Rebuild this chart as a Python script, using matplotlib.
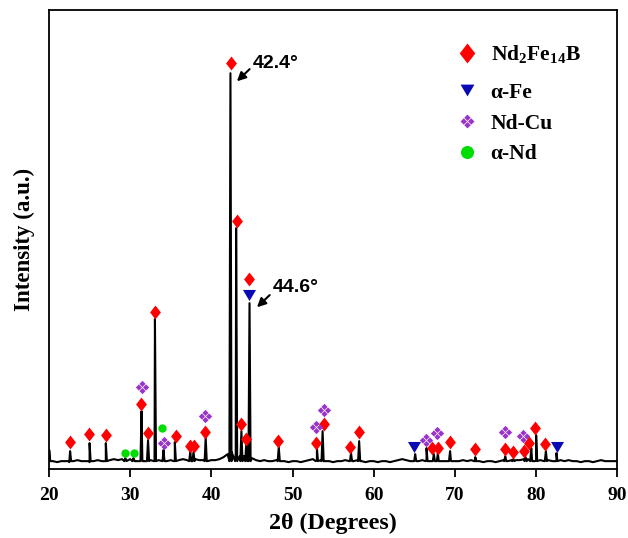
import numpy as np
import matplotlib
matplotlib.use("Agg")
from matplotlib import pyplot as plt
from matplotlib.path import Path
from matplotlib.lines import Line2D

plt.rcParams['font.family'] = ['Liberation Serif', 'DejaVu Serif']
plt.rcParams['font.weight'] = 'bold'
plt.rcParams['mathtext.fontset'] = 'custom'
plt.rcParams['mathtext.rm'] = 'Liberation Serif:bold'
plt.rcParams['mathtext.it'] = 'Liberation Serif:bold'
plt.rcParams['mathtext.bf'] = 'Liberation Serif:bold'

# background level of the pattern, every 0.5 degree from 20 to 90
bg_level = [2, 1, 0, 1, 1, 0, 1, 2, 1, 1, 0, 1, 2, 1, 1, 2, 3, 2, 3, 2,
            3, 2, 1, 2, 1, 2, 1, 2, 2, 1, 2, 1, 2, 3, 2, 2, 3, 2, 2, 1,
            2, 2, 3, 5, 8, 10, 8, 6, 6, 6, 4, 2, 1, 2, 1, 1, 2, 1, 1, 0,
            1, 1, 0, 1, 2, 3, 2, 2, 1, 1, 0, 1, 1, 2, 1, 1, 2, 1, 0, 1,
            1, 0, 1, 1, 0, 1, 2, 3, 2, 1, 2, 1, 2, 2, 1, 2, 1, 1, 1, 2,
            1, 1, 2, 1, 2, 1, 1, 0, 1, 1, 0, 1, 2, 1, 2, 2, 2, 3, 3, 2,
            2, 2, 1, 2, 1, 1, 2, 1, 2, 1, 1, 0, 1, 1, 0, 1, 2, 1, 1, 1, 1]

# diffraction peaks: position (2theta) and height
peak_pos = [20.03, 22.6, 25.0, 27.0, 29.4, 30.4, 31.4, 32.2, 33.05, 34.1, 35.5,
            37.4, 37.8, 39.3, 42.35, 43.05, 43.7, 44.3, 44.7, 48.3, 53.0,
            53.7, 57.2, 58.2, 65.1, 66.5, 67.4, 67.9, 69.4, 72.5, 76.2,
            77.2, 78.7, 79.4, 80.0, 81.2, 82.5]
peak_h = [12, 11, 19, 19, 4, 4, 51, 22, 143, 12, 20,
          10, 10, 25, 389, 234, 31, 19, 159, 15, 14,
          31, 9, 21, 8, 14, 8, 9, 11, 5, 6,
          3, 5, 14, 27, 11, 9]

# phase markers
nfb_x = [22.59, 24.96, 26.98, 31.37, 32.23, 33.02, 35.6, 37.33, 37.89, 39.25,
         42.38, 43.19, 43.68, 44.22, 44.63, 48.2, 52.92, 53.83, 57.07, 58.14,
         67.2, 67.87, 69.38, 72.43, 76.16, 77.14, 78.5, 79.11, 79.85, 81.08]
nfb_y = [20, 28, 27, 58, 29, 150, 26, 16, 16, 30,
         399, 241, 38, 23, 183, 21, 19, 38, 15, 30,
         14, 14, 20, 13, 13, 10, 11, 19, 34, 18]
fe_x = [44.66, 64.95, 82.52]
fe_y = [167, 15, 15]
ndcu_x = [31.45, 34.13, 39.25, 52.92, 53.83, 66.47, 67.82, 76.16, 78.34]
ndcu_y = [75, 19, 46, 35, 52, 22, 29, 30, 26]
nd_x = [29.36, 30.47, 33.95]
nd_y = [9, 9, 34]

bg_x = np.arange(20, 90.01, 0.5)
w = 0.13
px = np.concatenate([np.array(peak_pos) - w, peak_pos, np.array(peak_pos) + w])
py = np.concatenate([np.ones(len(peak_pos)), peak_h, np.ones(len(peak_pos))])
xx = np.concatenate([bg_x, px])
yy = np.concatenate([bg_level, py])
order = np.argsort(xx, kind='stable')
xx, yy = xx[order], yy[order]

# marker shapes
diamond = [(0, 1), (0.78, 0), (0, -1), (-0.78, 0), (0, 1)]
tri_down = [(-1, 0.85), (1, 0.85), (0, -0.85), (-1, 0.85)]
verts, codes = [], []
r = 0.43
for cx, cy in [(0, 0.5), (0.5, 0), (0, -0.5), (-0.5, 0)]:
    verts += [(cx, cy + r), (cx + r, cy), (cx, cy - r), (cx - r, cy), (cx, cy + r)]
    codes += [Path.MOVETO, Path.LINETO, Path.LINETO, Path.LINETO, Path.CLOSEPOLY]
clover = Path(verts, codes)

red = '#ff0000'
blue = '#0a0ab4'
purple = '#9933cc'
green = '#00dd00'

fig = plt.figure(figsize=(6.28, 5.38), dpi=100)
ax = fig.add_axes([0.078, 0.128, 0.905, 0.853])

ax.plot(xx, yy, color='black', lw=1.5, zorder=2)
ax.plot(nfb_x, nfb_y, ls='none', marker=diamond, ms=10, color=red, mew=0, zorder=3)
ax.plot(fe_x, fe_y, ls='none', marker=tri_down, ms=9.4, color=blue, mew=0, zorder=3)
ax.plot(ndcu_x, ndcu_y, ls='none', marker=clover, ms=9.6, color=purple, mew=0, zorder=3)
ax.plot(nd_x, nd_y, ls='none', marker='o', ms=6, color=green, mew=0, zorder=3)

ax.annotate('', xy=(42.9, 379), xytext=(44.96, 395),
            arrowprops=dict(arrowstyle='-|>', color='black', lw=1.5, mutation_scale=13))
ax.text(45.1, 399, '42.4°', fontsize=14, fontweight='bold', family='Liberation Sans',
        ha='left', va='center')
ax.annotate('', xy=(45.37, 153), xytext=(47.43, 169),
            arrowprops=dict(arrowstyle='-|>', color='black', lw=1.5, mutation_scale=13))
ax.text(47.5, 175, '44.6°', fontsize=14, fontweight='bold', family='Liberation Sans',
        ha='left', va='center')

h_nfb = Line2D([], [], ls='none', marker=diamond, ms=14.4, color=red, mew=0)
others = [
    Line2D([], [], ls='none', marker=tri_down, ms=10, color=blue, mew=0),
    Line2D([], [], ls='none', marker=clover, ms=10, color=purple, mew=0),
    Line2D([], [], ls='none', marker='o', ms=9.4, color=green, mew=0),
]
leg_kw = dict(loc='upper left', frameon=False, fontsize=15.5, handlelength=1.2,
              handletextpad=0.52, borderpad=0, borderaxespad=0)
leg1 = ax.legend([h_nfb], ['Nd$_{2}$Fe$_{14}$B'], bbox_to_anchor=(0.712, 0.928), **leg_kw)
ax.add_artist(leg1)
ax.legend(others, ['α-Fe', 'Nd-Cu', 'α-Nd'], bbox_to_anchor=(0.712, 0.842),
          labelspacing=0.5, **leg_kw)

ax.set_xlim(20, 90)
ax.set_ylim(-7, 452)
ax.set_xticks(range(20, 91, 10))
ax.set_yticks([])
ax.tick_params(axis='x', direction='out', length=6, width=1.3, labelsize=14, pad=7)
for s in ax.spines.values():
    s.set_linewidth(1.3)
ax.set_xlabel('2θ (Degrees)', fontsize=17.3, fontweight='bold', labelpad=6)
ax.set_ylabel('Intensity (a.u.)', fontsize=16.5, fontweight='bold', labelpad=10)

fig.savefig('out.png', dpi=100)
